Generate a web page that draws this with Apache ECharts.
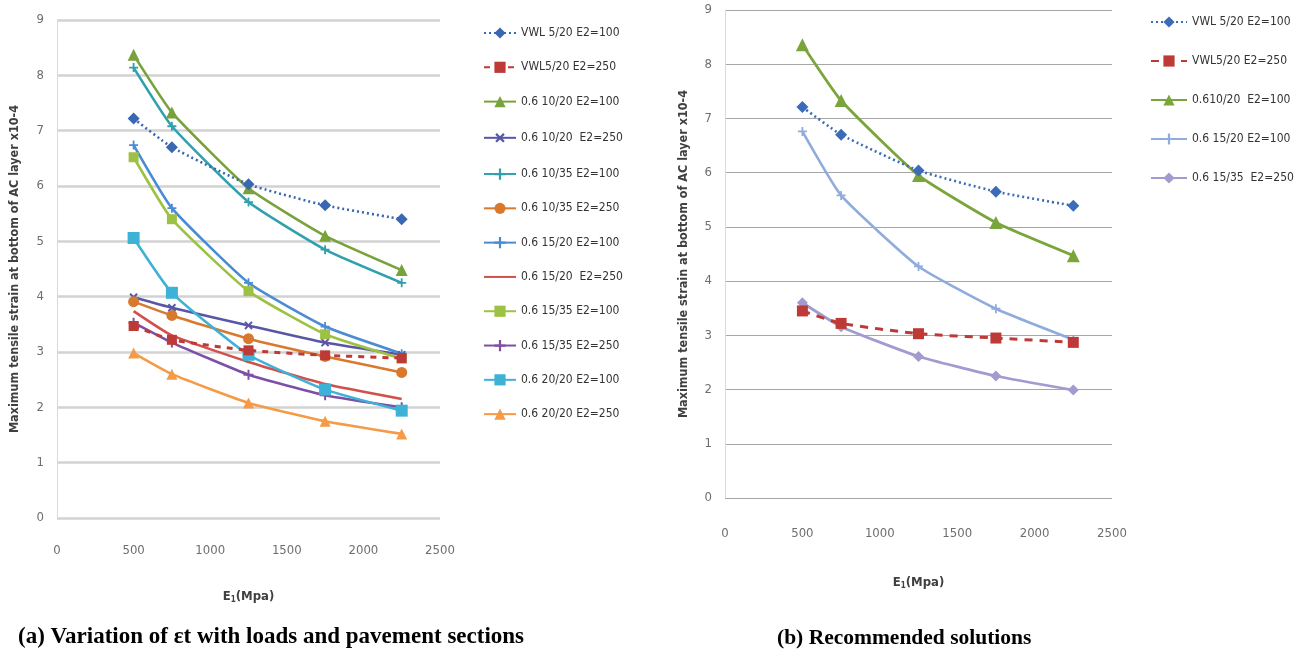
<!DOCTYPE html>
<html><head><meta charset="utf-8">
<script src="https://cdn.jsdelivr.net/npm/echarts@6/dist/echarts.min.js"></script>
<style>html,body{margin:0;padding:0;background:#fff;width:1308px;height:659px;overflow:hidden}
#a{position:absolute;left:0;top:0;width:660px;height:659px}
#b{position:absolute;left:660px;top:0;width:648px;height:659px}</style>
</head><body><div id="a"></div><div id="b"></div>
<script>
// ---- data ----
const E1 = [500, 750, 1250, 1750, 2250];
const yTicks = [0,1,2,3,4,5,6,7,8,9];
const xTicks = [0,500,1000,1500,2000,2500];

// chart (a)
const namesA = ['VWL 5/20 E2=100','VWL5/20 E2=250','0.6 10/20 E2=100','0.6 10/20  E2=250','0.6 10/35 E2=100','0.6 10/35 E2=250','0.6 15/20 E2=100','0.6 15/20  E2=250','0.6 15/35 E2=100','0.6 15/35 E2=250','0.6 20/20 E2=100','0.6 20/20 E2=250'];
const vwl520_100 = [7.22, 6.70, 6.03, 5.65, 5.40];
const vwl520_250 = [3.47, 3.22, 3.03, 2.94, 2.89];
const a1020_100 = [8.37, 7.33, 5.96, 5.10, 4.48];
const a1020_250 = [3.99, 3.80, 3.48, 3.17, 2.95];
const a1035_100 = [8.14, 7.08, 5.71, 4.85, 4.25];
const a1035_250 = [3.91, 3.66, 3.24, 2.92, 2.63];
const a1520_100 = [6.74, 5.60, 4.25, 3.46, 2.97];
const a1520_250 = [3.74, 3.30, 2.82, 2.42, 2.15];
const a1535_100 = [6.52, 5.40, 4.10, 3.32, 2.88];
const a1535_250 = [3.53, 3.17, 2.59, 2.22, 2.00];
const a2020_100 = [5.06, 4.07, 2.95, 2.32, 1.94];
const a2020_250 = [2.98, 2.60, 2.08, 1.75, 1.52];

// chart (b)
const namesB = ['VWL 5/20 E2=100','VWL5/20 E2=250','0.610/20  E2=100','0.6 15/20 E2=100','0.6 15/35  E2=250'];
const b_vwl520_100 = [7.21, 6.70, 6.04, 5.65, 5.39];
const b_vwl520_250 = [3.45, 3.22, 3.03, 2.95, 2.87];
const b1020_100 = [8.36, 7.33, 5.95, 5.08, 4.47];
const b1520_100 = [6.76, 5.58, 4.27, 3.49, 2.92];
const b1535_250 = [3.60, 3.16, 2.61, 2.25, 1.99];

const captionA = '(a) Variation of \u03b5t with loads and pavement sections';
const captionB = '(b) Recommended solutions';
const yName = 'Maximum tensile strain at bottom of AC layer x10-4';

// ---- styles ----
const PLUS = 'path://M4,0H6V4H10V6H6V10H4V6H0V4H4Z';
const DASH = 'path://M0,4H10V6H0Z';
const FONT = 'DejaVu Sans Condensed';

function pts(arr){ return E1.map((x,i)=>[x,arr[i]]); }
function ser(name, data, color, opt){
  opt = opt || {};
  return {
    type:'line', name:name, data:pts(data), smooth:0.15,
    symbol: opt.symbol || 'none', symbolSize: opt.size || 10, symbolRotate: opt.rot || 0,
    showSymbol: true,
    lineStyle:{color:color, width: opt.width || 2.6, type: opt.type || 'solid'},
    itemStyle:{color:color},
    z: opt.z || 2
  };
}
function axes(p){
  return {
    xAxis:{type:'value', min:0, max:2500, interval:500,
      name:'E{s|1}(Mpa)', nameLocation:'middle', nameGap:p.xNameGap,
      nameTextStyle:{fontFamily:FONT, fontWeight:'bold', fontSize:13, color:'#404040',
        rich:{s:{fontSize:8, verticalAlign:'bottom', fontFamily:FONT, fontWeight:'bold', color:'#404040', padding:[6,0,0,0]}}},
      axisLine:{show:false}, axisTick:{show:false}, splitLine:{show:false},
      axisLabel:{margin:p.xMargin, color:'#6e6e6e', fontSize:13, fontFamily:FONT, formatter:function(v){return String(v);}}},
    yAxis:{type:'value', min:0, max:9, interval:1,
      name:yName, nameLocation:'middle', nameGap:p.yNameGap,
      nameTextStyle:{fontFamily:FONT, fontWeight:'bold', fontSize:12.5, color:'#404040'},
      axisLine:{show:true, lineStyle:{color:'#D9D9D9', width:1}}, axisTick:{show:false},
      splitLine:{show:true, lineStyle:{color:p.gridColor, width:p.gridWidth}},
      axisLabel:{margin:p.yMargin, color:'#6e6e6e', fontSize:13, fontFamily:FONT}}
  };
}

// chart a
const chA = echarts.init(document.getElementById('a'), null, {renderer:'canvas'});
const axA = axes({xNameGap:72, xMargin:26, yNameGap:36, yMargin:13, gridColor:'#D2D2D2', gridWidth:2.5});
const legendA = namesA.map(function(n, i){ return i === 7 ? {name:n, itemStyle:{opacity:0}} : {name:n}; });
chA.setOption({
  animation:false,
  grid:{left:55, right:220, top:20, bottom:141},
  xAxis:axA.xAxis, yAxis:axA.yAxis,
  legend:{orient:'vertical', left:478, top:22, itemWidth:32, itemHeight:14, itemGap:22.3,
    data:legendA, textStyle:{fontFamily:FONT, fontSize:12, color:'#333'}},
  graphic:[{type:'text', left:18, top:626, style:{text:captionA, font:'bold 23px "Liberation Serif"', fill:'#000'}}],
  series:[
    ser(namesA[0], vwl520_100, '#3A67B1', {symbol:'diamond', size:12, type:[2,3], width:2.6, z:5}),
    ser(namesA[1], vwl520_250, '#BE3A36', {symbol:'rect', size:10, type:[6,6], width:3, z:4}),
    ser(namesA[2], a1020_100, '#78A23A', {symbol:'triangle', size:12}),
    ser(namesA[3], a1020_250, '#5957A5', {symbol:PLUS, size:10, rot:45}),
    ser(namesA[4], a1035_100, '#2FA0AE', {symbol:PLUS, size:9}),
    ser(namesA[5], a1035_250, '#D8792E', {symbol:'circle', size:11}),
    ser(namesA[6], a1520_100, '#4A8BD6', {symbol:PLUS, size:9}),
    ser(namesA[7], a1520_250, '#D2504C', {symbol:'none'}),
    ser(namesA[8], a1535_100, '#9DC243', {symbol:DASH, size:10}),
    ser(namesA[9], a1535_250, '#7D4FA6', {symbol:PLUS, size:10}),
    ser(namesA[10], a2020_100, '#3DB2D6', {symbol:'rect', size:12}),
    ser(namesA[11], a2020_250, '#F59A45', {symbol:'triangle', size:11})
  ]
});

// chart b
const chB = echarts.init(document.getElementById('b'), null, {renderer:'canvas'});
const axB = axes({xNameGap:78, xMargin:29, yNameGap:35, yMargin:13, gridColor:'#A6A6A6', gridWidth:1});
chB.setOption({
  animation:false,
  grid:{left:65, right:196, top:10, bottom:161},
  xAxis:axB.xAxis, yAxis:axB.yAxis,
  legend:{orient:'vertical', left:485, top:11, itemWidth:36, itemHeight:14, itemGap:27,
    data:namesB, textStyle:{fontFamily:FONT, fontSize:12, color:'#333'}},
  graphic:[{type:'text', left:117, top:627, style:{text:captionB, font:'bold 21.5px "Liberation Serif"', fill:'#000'}}],
  series:[
    ser(namesB[0], b_vwl520_100, '#3C6CB8', {symbol:'diamond', size:12, type:[2,3], z:5}),
    ser(namesB[1], b_vwl520_250, '#BE3A36', {symbol:'rect', size:11, type:[8,7], width:3, z:4}),
    ser(namesB[2], b1020_100, '#7AA53A', {symbol:'triangle', size:13, width:2.8}),
    ser(namesB[3], b1520_100, '#8FACDC', {symbol:PLUS, size:9}),
    ser(namesB[4], b1535_250, '#A29BCF', {symbol:'diamond', size:11, width:2.8})
  ]
});
</script></body></html>
